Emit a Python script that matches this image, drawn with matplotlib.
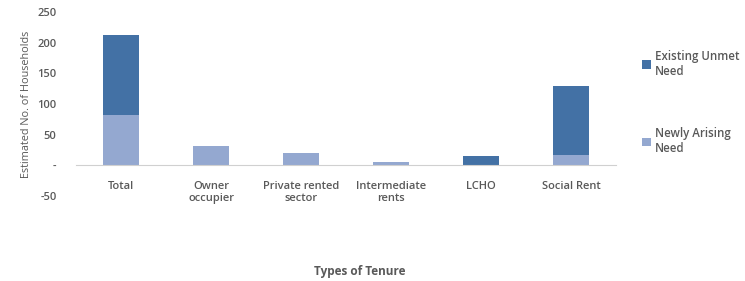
import numpy as np
import matplotlib.pyplot as plt

categories = ["Total", "Owner\noccupier", "Private rented\nsector", "Intermediate\nrents", "LCHO", "Social Rent"]
newly_arising = [83, 32, 20, 6, 0, 17]
existing_unmet = [129, 0, 0, 0, 15, 113]

dark_blue = "#4371a5"
light_blue = "#94a8d0"
grey = "#595959"

plt.rcParams['font.family'] = ['Open Sans', 'DejaVu Sans']
plt.rcParams['font.weight'] = 'semibold'

fig = plt.figure(figsize=(7.45, 2.81), dpi=100)
ax = fig.add_axes([0.102, 0.302, 0.725, 0.655])

x = np.arange(len(categories))
ax.bar(x, newly_arising, width=0.4, color=light_blue, label="Newly Arising\nNeed")
ax.bar(x, existing_unmet, width=0.4, bottom=newly_arising, color=dark_blue, label="Existing Unmet\nNeed")

ax.set_xlim(-0.5, len(categories) - 0.5)
ax.set_ylim(-50, 250)
ax.set_yticks([-50, 0, 50, 100, 150, 200, 250])
ax.set_yticklabels(["-50", "-", "50", "100", "150", "200", "250"])
ax.set_xticks(x)
ax.set_xticklabels(categories, linespacing=1.35)

for s in ['top', 'right', 'left']:
    ax.spines[s].set_visible(False)
ax.spines['bottom'].set_position(('data', 0))
ax.spines['bottom'].set_color("#d0d0d0")
ax.tick_params(axis='both', length=0, labelsize=8, colors=grey)
ax.tick_params(axis='x', pad=11)
ax.tick_params(axis='y', pad=14)

ax.set_ylabel("Estimated No. of Households", fontsize=7.8, color=grey, labelpad=4)
fig.text(0.483, 0.02, "Types of Tenure", ha='center', fontsize=8.5, color=grey, fontweight='bold')

# legend, existing need on top like the original
handles, labels = ax.get_legend_handles_labels()
fig.legend(handles[::-1], labels[::-1], loc='upper left', bbox_to_anchor=(0.848, 0.86),
           frameon=False, fontsize=8.3, labelcolor=grey, handlelength=0.75, handleheight=0.75,
           handletextpad=0.35, labelspacing=4.3)

plt.savefig("out.png", dpi=100)
